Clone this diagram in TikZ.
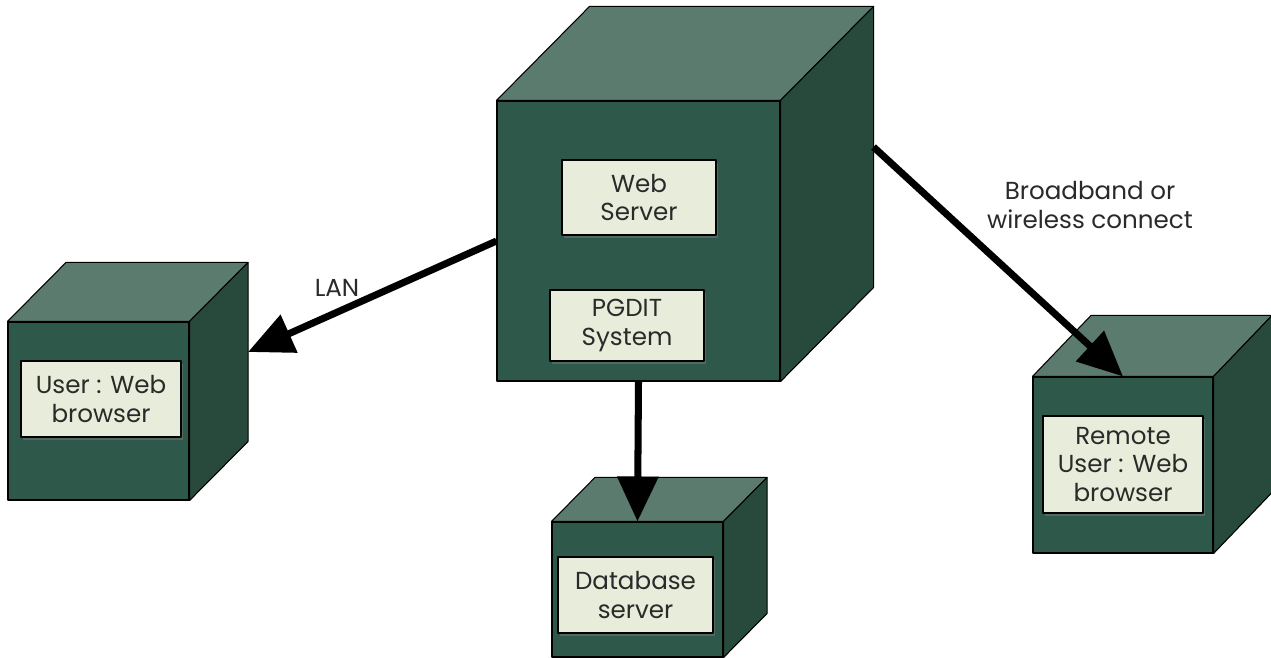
\documentclass[tikz,border=0pt]{standalone}
\usepackage{fontspec}
\setmainfont{Poppins}
\usetikzlibrary{arrows.meta,shadows}
\definecolor{front}{HTML}{2E594A}
\definecolor{lid}{HTML}{5B7B6E}
\definecolor{flank}{HTML}{284A3C}
\definecolor{paper}{HTML}{E8ECDA}
\definecolor{ink}{HTML}{2A2A2A}
\tikzset{
  face/.style={draw=black,line width=0.6pt,line join=round},
  cubefront/.style={face,fill=front,inner sep=0pt},
  tag/.style={face,fill=paper,text=ink,align=center,inner sep=0pt,
    font=\fontsize{14}{16}\selectfont,
    drop shadow={shadow xshift=0.04cm,shadow yshift=-0.06cm,opacity=0.45}},
  link/.style={line width=4pt,-{Triangle[length=9mm,width=8mm]}}
}

\begin{document}
\begin{tikzpicture}
\fill[white] (0,0) rectangle (25.42,13.16);
\useasboundingbox (0,0) rectangle (25.42,13.16);

% front faces
\node[cubefront,minimum width=5.66cm,minimum height=5.6cm] (main) at (12.77,8.34) {};
\node[cubefront,minimum width=3.62cm,minimum height=3.56cm] (user) at (1.97,4.94) {};
\node[cubefront,minimum width=3.42cm,minimum height=2.7cm] (db) at (12.75,1.37) {};
\node[cubefront,minimum width=3.6cm,minimum height=3.52cm] (remote) at (22.46,3.86) {};

% lids and flanks
\filldraw[face,fill=lid] (main.north west) -- ([shift={(1.86,1.88)}]main.north west)
  -- ([shift={(1.86,1.88)}]main.north east) -- (main.north east) -- cycle;
\filldraw[face,fill=flank] (main.north east) -- ([shift={(1.86,1.88)}]main.north east)
  -- ([shift={(1.86,1.88)}]main.south east) -- (main.south east) -- cycle;
\filldraw[face,fill=lid] (user.north west) -- ([shift={(1.17,1.18)}]user.north west)
  -- ([shift={(1.17,1.18)}]user.north east) -- (user.north east) -- cycle;
\filldraw[face,fill=flank] (user.north east) -- ([shift={(1.17,1.18)}]user.north east)
  -- ([shift={(1.17,1.18)}]user.south east) -- (user.south east) -- cycle;
\filldraw[face,fill=lid] (db.north west) -- ([shift={(0.87,0.88)}]db.north west)
  -- ([shift={(0.87,0.88)}]db.north east) -- (db.north east) -- cycle;
\filldraw[face,fill=flank] (db.north east) -- ([shift={(0.87,0.88)}]db.north east)
  -- ([shift={(0.87,0.88)}]db.south east) -- (db.south east) -- cycle;
\filldraw[face,fill=lid] (remote.north west) -- ([shift={(1.17,1.22)}]remote.north west)
  -- ([shift={(1.17,1.22)}]remote.north east) -- (remote.north east) -- cycle;
\filldraw[face,fill=flank] (remote.north east) -- ([shift={(1.17,1.22)}]remote.north east)
  -- ([shift={(1.17,1.22)}]remote.south east) -- (remote.south east) -- cycle;
\coordinate (mainback) at ([shift={(1.86,1.88)}]main.east);
\coordinate (userback) at ([shift={(1.17,1.18)}]user.east);

% tags
\node[tag,minimum width=3.08cm,minimum height=1.5cm] (websrv) at (12.78,9.21) {Web\\Server};
\node[tag,minimum width=3.08cm,minimum height=1.42cm] (pgdit) at (12.54,6.65) {PGDIT\\System};
\node[tag,minimum width=3.2cm,minimum height=1.52cm] (usertag) at (2.02,5.18) {User : Web\\browser};
\node[tag,minimum width=3.1cm,minimum height=1.52cm] (dbtag) at (12.71,1.26) {Database\\server};
\node[tag,minimum width=3.2cm,minimum height=1.94cm] (remotetag) at (22.46,3.87) {Remote\\User : Web\\browser};

% connectors
\draw[link] (main.west) -- (userback);
\draw[link] (main.south) -- (db.north);
\draw[link] (mainback) -- (remote.north);
\node[text=ink,font=\fontsize{14}{16}\selectfont] (lan) at (6.74,7.4) {LAN};
\node[text=ink,align=center,font=\fontsize{14}{16}\selectfont] (bband) at (21.8,9.06) {Broadband or\\wireless connect};
\end{tikzpicture}
\end{document}
